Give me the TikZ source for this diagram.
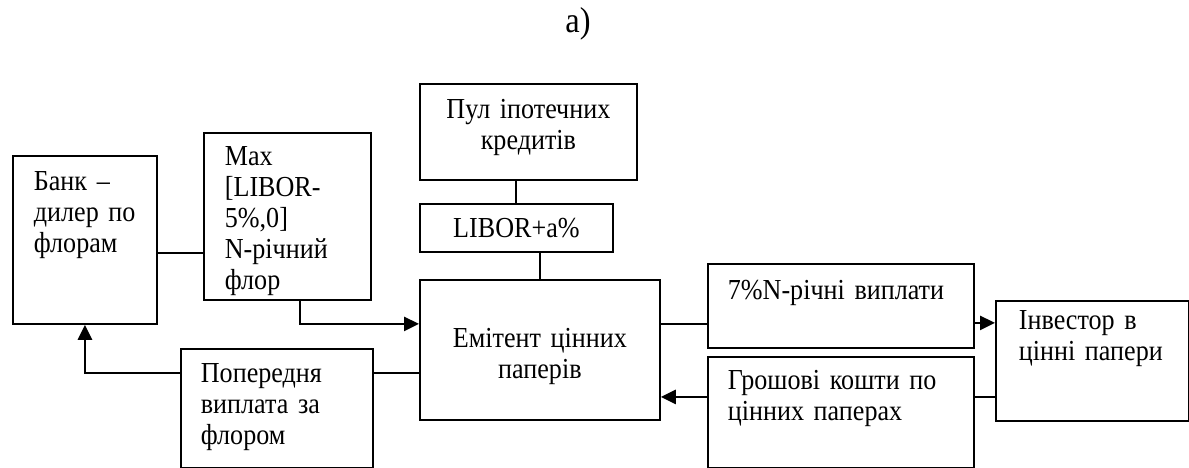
\documentclass[tikz,border=0pt]{standalone}
\usepackage{fontspec}
\setmainfont[FakeStretch=0.9]{Liberation Serif}
\usetikzlibrary{arrows.meta}
\newcommand\bodyfont{\fontsize{29}{31}\selectfont}

\begin{document}
\begin{tikzpicture}[x=1pt,y=-1pt,
    blk/.style={draw,line width=1.8pt,anchor=north west,inner xsep=21pt,inner ysep=0pt,
      align=left,font=\bodyfont},
    mid/.style={blk,align=center},
    lnk/.style={line width=2pt},
    arr/.style={line width=2.6pt,-{Triangle[length=15pt,width=14pt]}}]
  \useasboundingbox (0,0) rectangle (1189,468);

  \node[font=\fontsize{36}{38}\selectfont,anchor=base] (title) at (578,33) {а)};

  \node[blk,text width=102pt,text height=35pt,text depth=133pt] (bank) at (12,155)
    {Банк~–\\дилер~по\\флорам};
  \node[blk,text width=125pt,text height=33pt,text depth=134pt] (max) at (203,132)
    {Max\\{}[LIBOR-\\5\%,0]\\N-річний\\флор};
  \node[mid,inner xsep=10pt,text width=197pt,text height=35pt,text depth=61pt] (pul) at (419,83)
    {Пул~іпотечних\\кредитів};
  \node[mid,inner xsep=10pt,text width=173pt,text height=34pt,text depth=14pt] (libor) at (419,203)
    {LIBOR+a\%};
  \node[mid,inner xsep=10pt,text width=220pt,text height=68pt,text depth=72pt] (emit) at (419,279)
    {Емітент~цінних\\паперів};
  \node[blk,inner xsep=20pt,text width=152pt,text height=34pt,text depth=85pt] (pop) at (180,348)
    {Попередня\\виплата~за\\флором};
  \node[blk,inner xsep=20pt,text width=226pt,text height=36pt,text depth=48pt] (seven) at (707,263)
    {7\%N-річні~виплати};
  \node[blk,inner xsep=20pt,text width=226pt,text height=33pt,text depth=78pt] (hr) at (707,356)
    {Грошові~кошти~по\\цінних~паперах};
  \node[blk,inner xsep=23pt,text width=147pt,text height=29pt,text depth=91pt] (inv) at (995,300)
    {Інвестор~в\\цінні~папери};

  \coordinate (bm) at ([yshift=-13pt]bank.east);
  \coordinate (mo) at ([xshift=12.5pt]max.south);
  \coordinate (ei) at ([yshift=26pt]emit.west);
  \coordinate (po) at ([yshift=35.5pt]pop.west);
  \coordinate (so) at ([yshift=-17pt]seven.east);
  \coordinate (ho) at ([yshift=15.5pt]hr.west);

  \draw[lnk] (bm) -- (bm -| max.west);
  \draw[lnk] (libor.north) -- (libor.north |- pul.south);
  \draw[lnk] (emit.north) -- (emit.north |- libor.south);
  \draw[arr] (mo) |- (ei);
  \draw[arr] (po) -| (bank.south);
  \draw[lnk] (po -| pop.east) -- (po -| emit.west);
  \draw[lnk] (ei -| emit.east) -- (ei -| seven.west);
  \draw[arr] (so) -- (so -| inv.west);
  \draw[arr] (ho) -- (ho -| emit.east);
  \draw[lnk] (ho -| hr.east) -- (ho -| inv.west);
\end{tikzpicture}
\end{document}
